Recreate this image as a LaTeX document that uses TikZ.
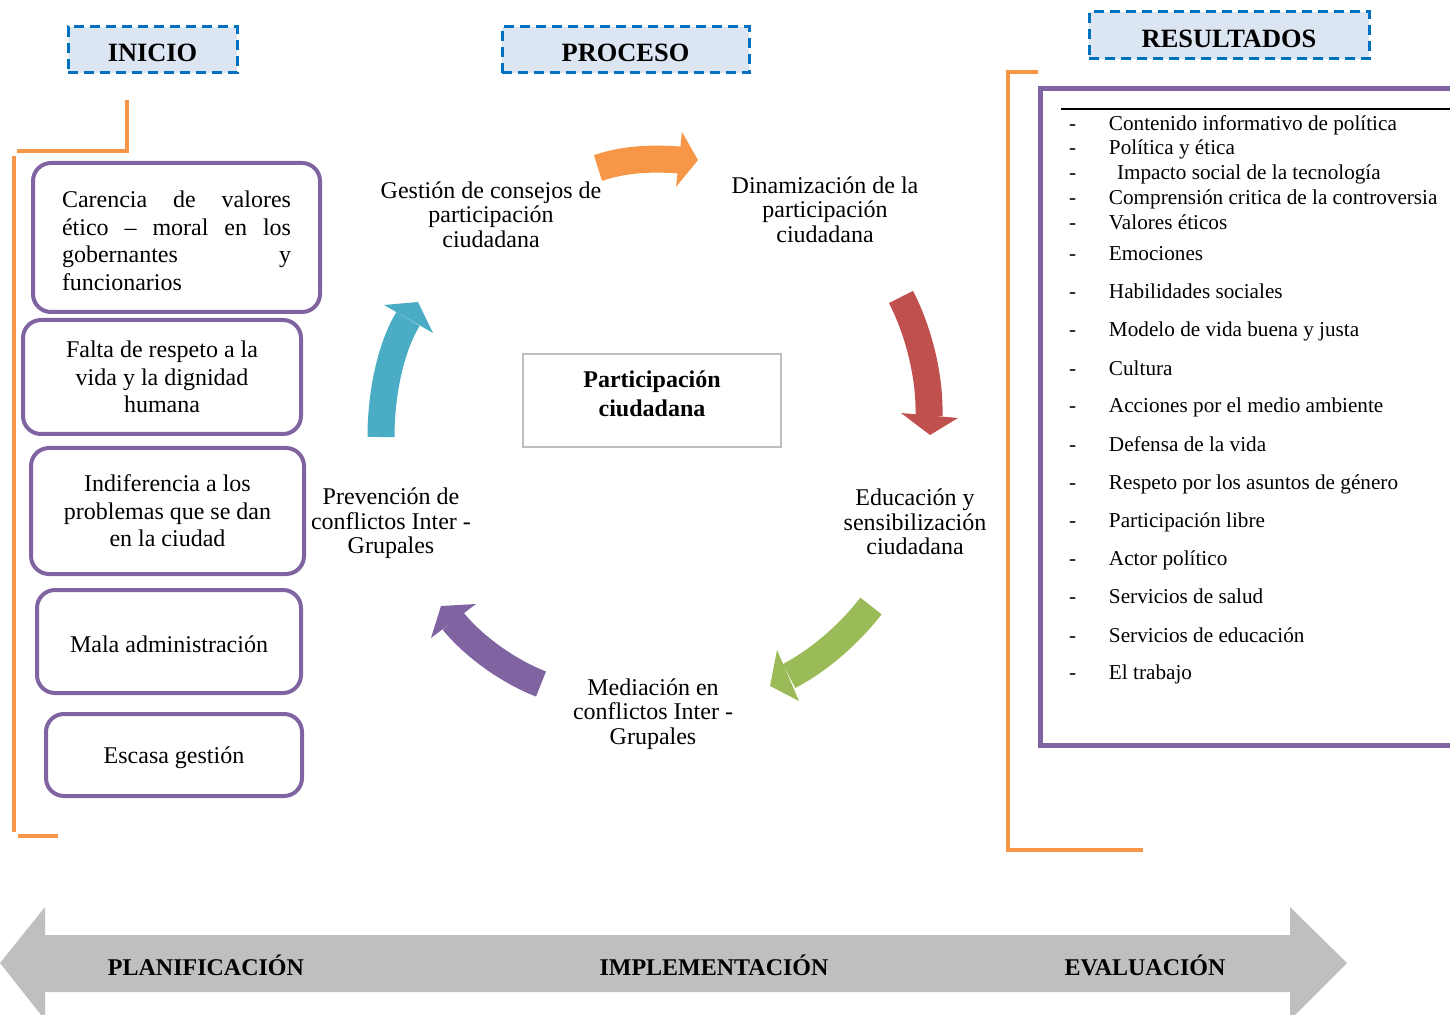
\documentclass[tikz,border=0pt]{standalone}
\usepackage{fontspec}
\setmainfont{Liberation Serif}

\definecolor{hdrfill}{RGB}{220,230,242}
\definecolor{hdrline}{RGB}{0,112,192}
\definecolor{brk}{RGB}{247,150,70}
\definecolor{lila}{RGB}{128,100,162}
\definecolor{rojo}{RGB}{192,80,77}
\definecolor{verde}{RGB}{155,187,89}
\definecolor{turq}{RGB}{75,172,198}
\definecolor{gris}{RGB}{191,191,191}

\begin{document}
\begin{tikzpicture}[x=0.5pt, y=-0.5pt, every node/.style={inner sep=0pt, outer sep=0pt},
    header/.style={draw=hdrline, fill=hdrfill, line width=1.5pt, dash pattern=on 5pt off 3pt, text height=12pt, font=\fontsize{13.2}{15}\selectfont\bfseries},
    causebox/.style={draw=lila, fill=white, line width=2pt, rounded corners=9pt, font=\fontsize{12}{13.8}\selectfont, align=center},
    cyclelabel/.style={font=\fontsize{12}{12.3}\selectfont, align=center},
    flow/.style={line width=13.5pt},
    bracket/.style={draw=brk, line width=2pt},
    item/.style={anchor=mid west, yshift=-1.5pt, font=\fontsize{10.6}{12}\selectfont},
    phase/.style={font=\fontsize{12}{14}\selectfont\bfseries}]
    \useasboundingbox (0,0) rectangle (1450,1015);

    % Encabezados
    \node[header, minimum width=84.5pt, minimum height=23pt] (inicio) at (152.5,50) {INICIO};
    \node[header, minimum width=123.5pt, minimum height=23pt] (proceso) at (625.5,50) {PROCESO};
    \node[header, minimum width=140pt, minimum height=23.5pt] (resultados) at (1229,35.5) {RESULTADOS};

    % Inicio
    \draw[bracket] (127,100) -- (127,151) -- (17,151);
    \draw[bracket] (14,156) -- (14,832);
    \draw[bracket] (18,836) -- (58,836);
    \node[causebox, minimum width=143.5pt, minimum height=74.5pt, text width=114.5pt, text height=11.5pt, align=justify] (carencia) at (176.5,237.5) {Carencia de valores\linebreak ético – moral en los\linebreak gobernantes y\linebreak funcionarios};
    \node[causebox, minimum width=139pt, minimum height=57pt] (falta) at (162,377) {Falta de respeto a la\\vida y la dignidad\\humana};
    \node[causebox, minimum width=136.5pt, minimum height=63pt] (indif) at (167.5,511) {Indiferencia a los\\problemas que se dan\\en la ciudad};
    \node[causebox, minimum width=132pt, minimum height=51.5pt, text height=11.5pt] (mala) at (169,641.5) {Mala administración};
    \node[causebox, minimum width=128pt, minimum height=41pt, text height=11.5pt] (escasa) at (174,755) {Escasa gestión};

    % Proceso
    \node[draw=gris, line width=0.6pt, minimum width=129pt, minimum height=46.5pt, text depth=7pt, align=center, font=\fontsize{12}{14.5}\selectfont\bfseries] (centro) at (652,400.5) {Participación\\ciudadana};
    \node[cyclelabel] (gestion) at (491,214.5) {Gestión de consejos de\\participación\\ciudadana};
    \node[cyclelabel] (dinam) at (825,209.5) {Dinamización de la\\participación\\ciudadana};
    \node[cyclelabel] (educ) at (915,522) {Educación y\\sensibilización\\ciudadana};
    \node[cyclelabel] (media) at (653,714) {Mediación en\\conflictos Inter -\\Grupales};
    \node[cyclelabel] (prev) at (391,523.5) {Prevención de\\conflictos Inter -\\Grupales};

    \draw[flow, brk] (598,168) .. controls (625,159) and (650,158) .. (680,160);
    \fill[brk] (682,132) -- (698,160) -- (676,187) -- cycle;
    \draw[flow, rojo] (901,297) .. controls (918,330) and (930,375) .. (929,416);
    \fill[rojo] (901,413) -- (930,435) -- (958,418) -- cycle;
    \draw[flow, verde] (871,606) .. controls (850,633) and (820,660) .. (789,676);
    \fill[verde] (777,650) -- (770,686) -- (799,701) -- cycle;
    \draw[flow, lila] (541,684) .. controls (510,672) and (475,648) .. (453,621);
    \fill[lila] (476,604) -- (441,606) -- (431,638) -- cycle;
    \draw[flow, turq] (381,437) .. controls (381,390) and (392,345) .. (408,319);
    \fill[turq] (384,305) -- (418,302) -- (433,333) -- cycle;

    % Resultados
    \draw[bracket] (1038,72) -- (1008,72) -- (1008,850) -- (1143,850);
    \draw[lila, line width=2.5pt] (1460,89) -- (1040,89) -- (1040,745) -- (1460,745);
    \draw[line width=1pt] (1061,109) -- (1460,109);
    \node[item] (r1) at (1069,123) {\makebox[20pt][l]{-}Contenido informativo de política};
    \node[item] (r2) at (1069,147) {\makebox[20pt][l]{-}Política y ética};
    \node[item] (r3) at (1069,172) {\makebox[20pt][l]{-}\hspace{4pt}Impacto social de la tecnología};
    \node[item] (r4) at (1069,197) {\makebox[20pt][l]{-}Comprensión critica de la controversia};
    \node[item] (r5) at (1069,222) {\makebox[20pt][l]{-}Valores éticos};
    \node[item] (r6) at (1069,253) {\makebox[20pt][l]{-}Emociones};
    \node[item] (r7) at (1069,291) {\makebox[20pt][l]{-}Habilidades sociales};
    \node[item] (r8) at (1069,329) {\makebox[20pt][l]{-}Modelo de vida buena y justa};
    \node[item] (r9) at (1069,368) {\makebox[20pt][l]{-}Cultura};
    \node[item] (r10) at (1069,405) {\makebox[20pt][l]{-}Acciones por el medio ambiente};
    \node[item] (r11) at (1069,444) {\makebox[20pt][l]{-}Defensa de la vida};
    \node[item] (r12) at (1069,482) {\makebox[20pt][l]{-}Respeto por los asuntos de género};
    \node[item] (r13) at (1069,520) {\makebox[20pt][l]{-}Participación libre};
    \node[item] (r14) at (1069,558) {\makebox[20pt][l]{-}Actor político};
    \node[item] (r15) at (1069,596) {\makebox[20pt][l]{-}Servicios de salud};
    \node[item] (r16) at (1069,635) {\makebox[20pt][l]{-}Servicios de educación};
    \node[item] (r17) at (1069,672) {\makebox[20pt][l]{-}El trabajo};

    % Fases
    \fill[gris] (0,963) -- (45,907) -- (45,935) -- (1290,935) -- (1290,907) -- (1347,963) -- (1290,1020) -- (1290,992) -- (45,992) -- (45,1020) -- cycle;
    \node[phase] (plan) at (206,965) {PLANIFICACIÓN};
    \node[phase] (impl) at (714,965) {IMPLEMENTACIÓN};
    \node[phase] (eval) at (1145,965) {EVALUACIÓN};
\end{tikzpicture}
\end{document}
